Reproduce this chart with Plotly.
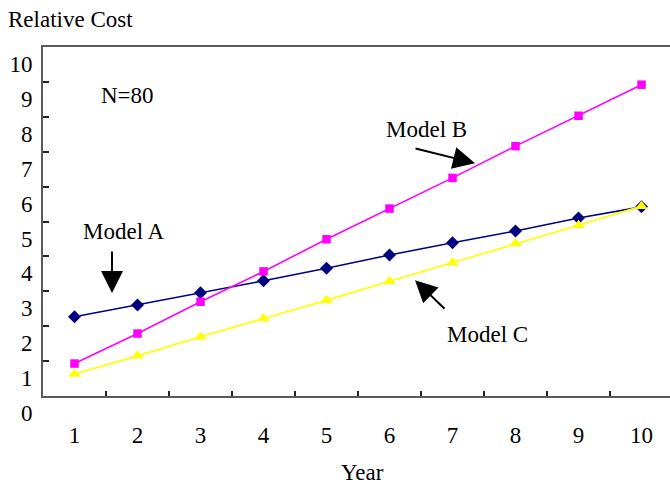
import plotly.graph_objects as go

# Relative cost of three models over ten years (N=80)
years = [1, 2, 3, 4, 5, 6, 7, 8, 9, 10]
year_labels = ["1", "2", "3", "4", "5", "6", "7", "8", "9", "10"]
model_a = [2.27, 2.61, 2.96, 3.30, 3.66, 4.04, 4.39, 4.73, 5.10, 5.42]
model_b = [0.93, 1.79, 2.70, 3.57, 4.49, 5.37, 6.25, 7.16, 8.03, 8.92]
model_c = [0.63, 1.15, 1.70, 2.22, 2.74, 3.29, 3.82, 4.37, 4.89, 5.44]
y_ticks = [0, 1, 2, 3, 4, 5, 6, 7, 8, 9, 10]

FONT = "Liberation Serif, Times New Roman, serif"
FSIZE = 23
AXIS_GREY = "#5a5a5a"

fig = go.Figure()

series = [
    ("Model A", model_a, "#000080", "diamond", 10),
    ("Model B", model_b, "#FF00FF", "square", 8.5),
    ("Model C", model_c, "#FFFF00", "triangle-up", 11),
]
for name, vals, color, symbol, size in series:
    fig.add_trace(go.Scatter(
        x=years, y=vals, name=name, mode="lines+markers",
        line=dict(color=color, width=1.6),
        marker=dict(color=color, symbol=symbol, size=size, line=dict(width=0)),
        showlegend=False, cliponaxis=False,
    ))

x_range = [0.5, 10.452]

fig.update_layout(
    width=670, height=484,
    margin=dict(l=43, r=0, t=47, b=88),
    paper_bgcolor="white", plot_bgcolor="white",
    font=dict(family=FONT, size=FSIZE, color="black"),
    xaxis=dict(
        range=x_range, showgrid=False, zeroline=False,
        tickvals=[1.5, 2.5, 3.5, 4.5, 5.5, 6.5, 7.5, 8.5, 9.5],
        ticks="inside", ticklen=5, tickwidth=1.5, tickcolor="#222",
        showticklabels=False,
        showline=True, linecolor=AXIS_GREY, linewidth=2, mirror=True,
    ),
    xaxis2=dict(
        range=x_range, overlaying="x", side="bottom",
        showgrid=False, zeroline=False, showline=False,
        tickvals=years, ticktext=year_labels, ticks="",
        ticklabelstandoff=23,
        tickfont=dict(family=FONT, size=FSIZE, color="black"),
    ),
    yaxis=dict(
        range=[0, 10], showgrid=False, zeroline=False,
        tickvals=y_ticks, ticktext=[str(v) for v in y_ticks],
        ticks="inside", ticklen=6, tickwidth=1.5, tickcolor="#222",
        ticklabelshift=17, ticklabelstandoff=4,
        showline=True, linecolor=AXIS_GREY, linewidth=2, mirror=False,
        tickfont=dict(family=FONT, size=FSIZE, color="black"),
    ),
)

# Placeholder trace so the label axis is drawn
fig.add_trace(go.Scatter(x=[years[0]], y=[None], xaxis="x2", showlegend=False,
                         hoverinfo="skip", mode="markers"))

annotations = [
    dict(text="Relative Cost", xref="paper", yref="paper", x=-37 / 627, y=1 + 27 / 349,
         xanchor="left", yanchor="middle", showarrow=False),
    dict(text="Year", xref="paper", yref="paper", x=(362 - 43) / 627, y=-76 / 349,
         xanchor="center", yanchor="middle", showarrow=False),
    dict(text="N=80", xref="x", yref="y", x=1.84, y=8.6, showarrow=False),
    dict(text="Model A", xref="x", yref="y", x=1.79, y=4.70, showarrow=False),
    dict(text="Model B", xref="x", yref="y", x=6.59, y=7.64, showarrow=False),
    dict(text="Model C", xref="x", yref="y", x=7.56, y=1.77, showarrow=False),
]
arrows = [
    (1.595, 2.95, 1.595, 4.18),
    (7.357, 6.67, 6.389, 7.10),
    (6.405, 3.32, 6.897, 2.46),
]
for tx, ty, sx, sy in arrows:
    annotations.append(dict(
        text="", x=tx, y=ty, ax=sx, ay=sy, xref="x", yref="y", axref="x", ayref="y",
        showarrow=True, arrowhead=2, arrowsize=2.2, arrowwidth=2, arrowcolor="black",
    ))
fig.update_layout(annotations=annotations)

fig.write_html("out.html")
